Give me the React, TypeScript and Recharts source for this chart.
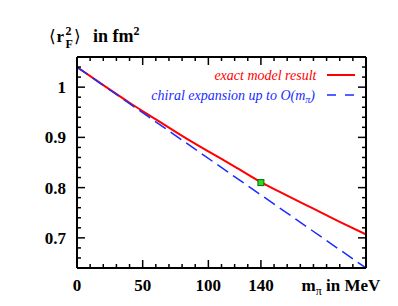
import React from "react";
import { ComposedChart, Line, Scatter, XAxis, YAxis } from "recharts";

// ---- data ----
const exactMass = [0, 20, 40, 60, 80, 100, 120, 140, 160, 180, 200, 220];
const exactRadius = [1.04, 1.004, 0.969, 0.936, 0.903, 0.872, 0.842, 0.811, 0.784, 0.758, 0.732, 0.707];
const chiralMass = [0, 220];
const chiralRadius = [1.04, 0.64];
const physicalPoint = [{ m: 140, r: 0.81 }];

const xTicks = [0, 10, 20, 30, 40, 50, 60, 70, 80, 90, 100, 110, 120, 130, 140, 150, 160, 170, 180, 190, 200, 210, 220];
const xLabelTicks = [0, 50, 100, 140];
const yTicks = [0.64, 0.66, 0.68, 0.7, 0.72, 0.74, 0.76, 0.78, 0.8, 0.82, 0.84, 0.86, 0.88, 0.9, 0.92, 0.94, 0.96, 0.98, 1.0, 1.02, 1.04, 1.06];
const yLabelTicks = [0.7, 0.8, 0.9, 1.0];
const yLabelText = ["0.7", "0.8", "0.9", "1"];

const exactData = exactMass.map((m, i) => ({ m, r: exactRadius[i] }));
const chiralData = chiralMass.map((m, i) => ({ m, r: chiralRadius[i] }));

const FONT = "'Liberation Serif', 'Times New Roman', serif";
const W = 390;
const H = 298;

const isMajor = (v: number, list: number[]) => list.some((m) => Math.abs(m - v) < 1e-6);

const BottomTick = (p: any) => {
  const { x, y, payload } = p;
  const v = payload.value;
  const major = isMajor(v, xLabelTicks);
  return (
    <g>
      <path d={`M${x},${y}V${y - (major ? 8 : 4)}`} stroke="#000" strokeWidth={1.5} fill="none" />
      {major && (
        <text x={x} y={y + 23} textAnchor="middle" fontFamily={FONT} fontWeight="bold" fontSize={17} fill="#000">
          {v}
        </text>
      )}
    </g>
  );
};

const TopTick = (p: any) => {
  const { x, y, payload } = p;
  const major = isMajor(payload.value, xLabelTicks);
  return <path d={`M${x},${y}V${y + (major ? 8 : 4)}`} stroke="#000" strokeWidth={1.5} fill="none" />;
};

const LeftTick = (p: any) => {
  const { x, y, payload } = p;
  const v = payload.value;
  const idx = yLabelTicks.findIndex((m) => Math.abs(m - v) < 1e-6);
  const major = idx >= 0;
  return (
    <g>
      <path d={`M${x},${y}H${x + (major ? 8 : 4)}`} stroke="#000" strokeWidth={1.5} fill="none" />
      {major && (
        <text x={x - 11} y={y + 6} textAnchor="end" fontFamily={FONT} fontWeight="bold" fontSize={17} fill="#000">
          {yLabelText[idx]}
        </text>
      )}
    </g>
  );
};

const RightTick = (p: any) => {
  const { x, y, payload } = p;
  const major = isMajor(payload.value, yLabelTicks);
  return <path d={`M${x},${y}H${x - (major ? 8 : 4)}`} stroke="#000" strokeWidth={1.5} fill="none" />;
};

const SquareMarker = (p: any) => {
  const { cx, cy } = p;
  return <rect x={cx - 3} y={cy - 3} width={6} height={6} fill="#22dd22" stroke="#116611" strokeWidth={1} />;
};

const axisLine = { stroke: "#000", strokeWidth: 2 };

export default function App() {
  return (
    <div style={{ position: "relative", width: W, height: H }}>
      <ComposedChart width={W} height={H} margin={{ top: 48, right: 31, bottom: 8, left: 9 }}>
        <XAxis
          dataKey="m"
          type="number"
          domain={[0, 220]}
          ticks={xTicks}
          interval={0}
          height={30}
          tickSize={0}
          tickMargin={0}
          axisLine={axisLine}
          tickLine={false}
          tick={BottomTick}
          allowDataOverflow
        />
        <XAxis
          xAxisId="top"
          orientation="top"
          dataKey="m"
          type="number"
          domain={[0, 220]}
          ticks={xTicks}
          interval={0}
          height={1}
          tickSize={0}
          tickMargin={0}
          axisLine={axisLine}
          tickLine={false}
          tick={TopTick}
          allowDataOverflow
        />
        <YAxis
          dataKey="r"
          type="number"
          domain={[0.64, 1.06]}
          ticks={yTicks}
          interval={0}
          width={60}
          tickSize={0}
          tickMargin={0}
          axisLine={axisLine}
          tickLine={false}
          tick={LeftTick}
          allowDataOverflow
        />
        <YAxis
          yAxisId="right"
          orientation="right"
          dataKey="r"
          type="number"
          domain={[0.64, 1.06]}
          ticks={yTicks}
          interval={0}
          width={1}
          tickSize={0}
          tickMargin={0}
          axisLine={axisLine}
          tickLine={false}
          tick={RightTick}
          allowDataOverflow
        />
        <Line
          data={exactData}
          dataKey="r"
          type="monotone"
          stroke="#ff0000"
          strokeWidth={2}
          dot={false}
          isAnimationActive={false}
        />
        <Line
          data={chiralData}
          dataKey="r"
          type="linear"
          stroke="#1a2cff"
          strokeWidth={1.5}
          strokeDasharray="13 6"
          dot={false}
          isAnimationActive={false}
        />
        <Scatter data={physicalPoint} dataKey="r" shape={SquareMarker} isAnimationActive={false} />
      </ComposedChart>
      <svg
        width={W}
        height={H}
        style={{ position: "absolute", left: 0, top: 0, pointerEvents: "none" }}
      >
        {/* y title */}
        <text x={41} y={34} fontFamily={FONT} fontSize={17} fill="#000">⟨</text>
        <text x={48.5} y={34} fontFamily={FONT} fontWeight="bold" fontSize={17} fill="#000">r</text>
        <text x={57.5} y={27} fontFamily={FONT} fontWeight="bold" fontSize={12} fill="#000">2</text>
        <text x={57.5} y={39.5} fontFamily={FONT} fontWeight="bold" fontSize={12} fill="#000">F</text>
        <text x={66} y={34} fontFamily={FONT} fontSize={17} fill="#000">⟩</text>
        <text x={85} y={34} fontFamily={FONT} fontWeight="bold" fontSize={18} fill="#000">
          in fm<tspan dy={-7} fontSize={12}>2</tspan>
        </text>
        {/* x title */}
        <text x={293.5} y={283} fontFamily={FONT} fontWeight="bold" fontSize={17} fill="#000">
          m<tspan dy={4} fontSize={12} fontWeight="normal">π</tspan><tspan dy={-4}> in MeV</tspan>
        </text>
        {/* legend */}
        <text x={308.5} y={71.5} textAnchor="end" fontFamily={FONT} fontStyle="italic" fontSize={14} fill="#ff0000">
          exact model result
        </text>
        <line x1={319} x2={347} y1={67} y2={67} stroke="#ff0000" strokeWidth={2} />
        <text x={307} y={91.5} textAnchor="end" fontFamily={FONT} fontStyle="italic" fontSize={14} fill="#1a2cff">
          chiral expansion up to O(m<tspan dy={3} fontSize={10}>π</tspan><tspan dy={-3}>)</tspan>
        </text>
        <line x1={319} x2={347} y1={87} y2={87} stroke="#1a2cff" strokeWidth={1.5} strokeDasharray="9 9" />
      </svg>
    </div>
  );
}
